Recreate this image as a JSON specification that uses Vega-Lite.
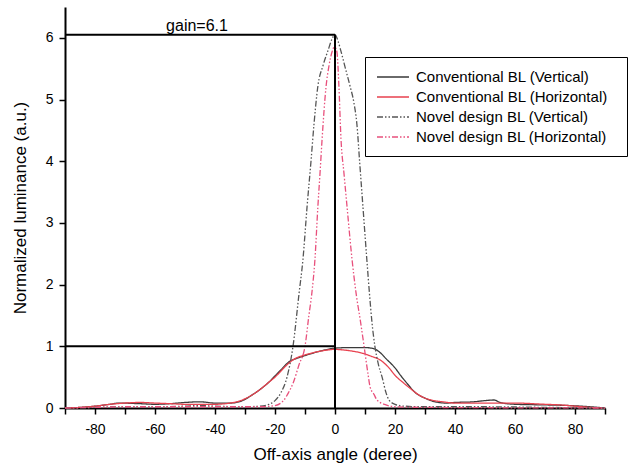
{
  "$schema": "https://vega.github.io/schema/vega-lite/v6.json",
  "width": 540,
  "height": 401,
  "autosize": {"type": "none"},
  "padding": {"left": 65, "top": 7, "right": 32, "bottom": 58},
  "background": "white",
  "config": {
    "locale": {"number": {"decimal": ".", "thousands": ",", "grouping": [3], "currency": ["$", ""], "minus": "-"}},
    "view": {"stroke": null},
    "font": "Liberation Sans",
    "axis": {
      "grid": false,
      "domainColor": "black",
      "domainWidth": 2,
      "tickColor": "black",
      "tickWidth": 1.5,
      "labelColor": "black",
      "titleColor": "black",
      "labelFont": "Liberation Sans",
      "titleFont": "Liberation Sans",
      "labelFontSize": 14,
      "titleFontSize": 17,
      "titleFontWeight": "normal",
      "labelOverlap": false
    }
  },
  "resolve": {"axis": {"x": "independent"}},
  "layer": [
    {
      "data": {
        "values": [
          {"s": "Conventional  BL (Vertical)", "x": -90, "y": 0},
          {"s": "Conventional  BL (Vertical)", "x": -85, "y": 0.01},
          {"s": "Conventional  BL (Vertical)", "x": -80, "y": 0.03},
          {"s": "Conventional  BL (Vertical)", "x": -75, "y": 0.06},
          {"s": "Conventional  BL (Vertical)", "x": -72, "y": 0.08},
          {"s": "Conventional  BL (Vertical)", "x": -65, "y": 0.07},
          {"s": "Conventional  BL (Vertical)", "x": -60, "y": 0.06},
          {"s": "Conventional  BL (Vertical)", "x": -55, "y": 0.07},
          {"s": "Conventional  BL (Vertical)", "x": -50, "y": 0.09},
          {"s": "Conventional  BL (Vertical)", "x": -45, "y": 0.1},
          {"s": "Conventional  BL (Vertical)", "x": -40, "y": 0.08},
          {"s": "Conventional  BL (Vertical)", "x": -35, "y": 0.08},
          {"s": "Conventional  BL (Vertical)", "x": -32, "y": 0.1},
          {"s": "Conventional  BL (Vertical)", "x": -30, "y": 0.14},
          {"s": "Conventional  BL (Vertical)", "x": -28, "y": 0.2},
          {"s": "Conventional  BL (Vertical)", "x": -25, "y": 0.3},
          {"s": "Conventional  BL (Vertical)", "x": -22, "y": 0.42},
          {"s": "Conventional  BL (Vertical)", "x": -20, "y": 0.52},
          {"s": "Conventional  BL (Vertical)", "x": -18, "y": 0.62},
          {"s": "Conventional  BL (Vertical)", "x": -16, "y": 0.72},
          {"s": "Conventional  BL (Vertical)", "x": -15, "y": 0.76},
          {"s": "Conventional  BL (Vertical)", "x": -13, "y": 0.8},
          {"s": "Conventional  BL (Vertical)", "x": -10, "y": 0.85},
          {"s": "Conventional  BL (Vertical)", "x": -5, "y": 0.92},
          {"s": "Conventional  BL (Vertical)", "x": 0, "y": 0.97},
          {"s": "Conventional  BL (Vertical)", "x": 5, "y": 0.98},
          {"s": "Conventional  BL (Vertical)", "x": 10, "y": 0.98},
          {"s": "Conventional  BL (Vertical)", "x": 13, "y": 0.96},
          {"s": "Conventional  BL (Vertical)", "x": 15, "y": 0.9},
          {"s": "Conventional  BL (Vertical)", "x": 17, "y": 0.8},
          {"s": "Conventional  BL (Vertical)", "x": 20, "y": 0.65},
          {"s": "Conventional  BL (Vertical)", "x": 22, "y": 0.52},
          {"s": "Conventional  BL (Vertical)", "x": 24, "y": 0.4},
          {"s": "Conventional  BL (Vertical)", "x": 27, "y": 0.24},
          {"s": "Conventional  BL (Vertical)", "x": 30, "y": 0.16},
          {"s": "Conventional  BL (Vertical)", "x": 32, "y": 0.12},
          {"s": "Conventional  BL (Vertical)", "x": 37, "y": 0.08},
          {"s": "Conventional  BL (Vertical)", "x": 40, "y": 0.09},
          {"s": "Conventional  BL (Vertical)", "x": 46, "y": 0.1},
          {"s": "Conventional  BL (Vertical)", "x": 50, "y": 0.12},
          {"s": "Conventional  BL (Vertical)", "x": 53, "y": 0.13},
          {"s": "Conventional  BL (Vertical)", "x": 55, "y": 0.09},
          {"s": "Conventional  BL (Vertical)", "x": 60, "y": 0.06},
          {"s": "Conventional  BL (Vertical)", "x": 70, "y": 0.05},
          {"s": "Conventional  BL (Vertical)", "x": 78, "y": 0.04},
          {"s": "Conventional  BL (Vertical)", "x": 85, "y": 0.02},
          {"s": "Conventional  BL (Vertical)", "x": 90, "y": 0},

          {"s": "Conventional  BL (Horizontal)", "x": -90, "y": 0},
          {"s": "Conventional  BL (Horizontal)", "x": -85, "y": 0.01},
          {"s": "Conventional  BL (Horizontal)", "x": -80, "y": 0.03},
          {"s": "Conventional  BL (Horizontal)", "x": -75, "y": 0.06},
          {"s": "Conventional  BL (Horizontal)", "x": -70, "y": 0.08},
          {"s": "Conventional  BL (Horizontal)", "x": -65, "y": 0.09},
          {"s": "Conventional  BL (Horizontal)", "x": -60, "y": 0.08},
          {"s": "Conventional  BL (Horizontal)", "x": -55, "y": 0.07},
          {"s": "Conventional  BL (Horizontal)", "x": -50, "y": 0.06},
          {"s": "Conventional  BL (Horizontal)", "x": -45, "y": 0.06},
          {"s": "Conventional  BL (Horizontal)", "x": -40, "y": 0.06},
          {"s": "Conventional  BL (Horizontal)", "x": -35, "y": 0.08},
          {"s": "Conventional  BL (Horizontal)", "x": -32, "y": 0.11},
          {"s": "Conventional  BL (Horizontal)", "x": -30, "y": 0.15},
          {"s": "Conventional  BL (Horizontal)", "x": -28, "y": 0.2},
          {"s": "Conventional  BL (Horizontal)", "x": -25, "y": 0.3},
          {"s": "Conventional  BL (Horizontal)", "x": -22, "y": 0.42},
          {"s": "Conventional  BL (Horizontal)", "x": -20, "y": 0.5},
          {"s": "Conventional  BL (Horizontal)", "x": -18, "y": 0.6},
          {"s": "Conventional  BL (Horizontal)", "x": -16, "y": 0.7},
          {"s": "Conventional  BL (Horizontal)", "x": -14, "y": 0.78},
          {"s": "Conventional  BL (Horizontal)", "x": -12, "y": 0.83},
          {"s": "Conventional  BL (Horizontal)", "x": -10, "y": 0.86},
          {"s": "Conventional  BL (Horizontal)", "x": -5, "y": 0.92},
          {"s": "Conventional  BL (Horizontal)", "x": 0, "y": 0.95},
          {"s": "Conventional  BL (Horizontal)", "x": 3, "y": 0.94},
          {"s": "Conventional  BL (Horizontal)", "x": 6, "y": 0.92},
          {"s": "Conventional  BL (Horizontal)", "x": 9, "y": 0.89},
          {"s": "Conventional  BL (Horizontal)", "x": 12, "y": 0.84},
          {"s": "Conventional  BL (Horizontal)", "x": 15, "y": 0.78},
          {"s": "Conventional  BL (Horizontal)", "x": 18, "y": 0.65},
          {"s": "Conventional  BL (Horizontal)", "x": 20, "y": 0.53},
          {"s": "Conventional  BL (Horizontal)", "x": 23, "y": 0.4},
          {"s": "Conventional  BL (Horizontal)", "x": 25, "y": 0.32},
          {"s": "Conventional  BL (Horizontal)", "x": 28, "y": 0.21},
          {"s": "Conventional  BL (Horizontal)", "x": 30, "y": 0.16},
          {"s": "Conventional  BL (Horizontal)", "x": 33, "y": 0.12},
          {"s": "Conventional  BL (Horizontal)", "x": 36, "y": 0.1},
          {"s": "Conventional  BL (Horizontal)", "x": 40, "y": 0.08},
          {"s": "Conventional  BL (Horizontal)", "x": 50, "y": 0.08},
          {"s": "Conventional  BL (Horizontal)", "x": 60, "y": 0.08},
          {"s": "Conventional  BL (Horizontal)", "x": 70, "y": 0.06},
          {"s": "Conventional  BL (Horizontal)", "x": 75, "y": 0.05},
          {"s": "Conventional  BL (Horizontal)", "x": 80, "y": 0.03},
          {"s": "Conventional  BL (Horizontal)", "x": 85, "y": 0.01},
          {"s": "Conventional  BL (Horizontal)", "x": 90, "y": 0},

          {"s": "Novel  design BL  (Vertical)", "x": -90, "y": 0},
          {"s": "Novel  design BL  (Vertical)", "x": -80, "y": 0.01},
          {"s": "Novel  design BL  (Vertical)", "x": -70, "y": 0.02},
          {"s": "Novel  design BL  (Vertical)", "x": -60, "y": 0.02},
          {"s": "Novel  design BL  (Vertical)", "x": -50, "y": 0.03},
          {"s": "Novel  design BL  (Vertical)", "x": -45, "y": 0.04},
          {"s": "Novel  design BL  (Vertical)", "x": -40, "y": 0.03},
          {"s": "Novel  design BL  (Vertical)", "x": -30, "y": 0.02},
          {"s": "Novel  design BL  (Vertical)", "x": -25, "y": 0.03},
          {"s": "Novel  design BL  (Vertical)", "x": -22, "y": 0.06},
          {"s": "Novel  design BL  (Vertical)", "x": -20, "y": 0.12},
          {"s": "Novel  design BL  (Vertical)", "x": -18, "y": 0.25},
          {"s": "Novel  design BL  (Vertical)", "x": -16, "y": 0.5},
          {"s": "Novel  design BL  (Vertical)", "x": -14, "y": 1.0},
          {"s": "Novel  design BL  (Vertical)", "x": -12, "y": 1.85},
          {"s": "Novel  design BL  (Vertical)", "x": -10.7, "y": 2.4},
          {"s": "Novel  design BL  (Vertical)", "x": -9.3, "y": 3.27},
          {"s": "Novel  design BL  (Vertical)", "x": -8, "y": 4.0},
          {"s": "Novel  design BL  (Vertical)", "x": -7, "y": 4.6},
          {"s": "Novel  design BL  (Vertical)", "x": -5.7, "y": 5.22},
          {"s": "Novel  design BL  (Vertical)", "x": -4, "y": 5.55},
          {"s": "Novel  design BL  (Vertical)", "x": -2.3, "y": 5.8},
          {"s": "Novel  design BL  (Vertical)", "x": -1, "y": 5.98},
          {"s": "Novel  design BL  (Vertical)", "x": 0, "y": 6.05},
          {"s": "Novel  design BL  (Vertical)", "x": 1, "y": 5.95},
          {"s": "Novel  design BL  (Vertical)", "x": 2, "y": 5.78},
          {"s": "Novel  design BL  (Vertical)", "x": 3.5, "y": 5.5},
          {"s": "Novel  design BL  (Vertical)", "x": 5, "y": 5.22},
          {"s": "Novel  design BL  (Vertical)", "x": 6.3, "y": 4.95},
          {"s": "Novel  design BL  (Vertical)", "x": 7.3, "y": 4.6},
          {"s": "Novel  design BL  (Vertical)", "x": 8.2, "y": 4.0},
          {"s": "Novel  design BL  (Vertical)", "x": 9.3, "y": 3.27},
          {"s": "Novel  design BL  (Vertical)", "x": 10.7, "y": 2.35},
          {"s": "Novel  design BL  (Vertical)", "x": 11.5, "y": 1.85},
          {"s": "Novel  design BL  (Vertical)", "x": 12.3, "y": 1.4},
          {"s": "Novel  design BL  (Vertical)", "x": 13.3, "y": 1.0},
          {"s": "Novel  design BL  (Vertical)", "x": 14.5, "y": 0.7},
          {"s": "Novel  design BL  (Vertical)", "x": 15.7, "y": 0.5},
          {"s": "Novel  design BL  (Vertical)", "x": 17, "y": 0.25},
          {"s": "Novel  design BL  (Vertical)", "x": 18, "y": 0.13},
          {"s": "Novel  design BL  (Vertical)", "x": 20, "y": 0.06},
          {"s": "Novel  design BL  (Vertical)", "x": 23, "y": 0.03},
          {"s": "Novel  design BL  (Vertical)", "x": 30, "y": 0.02},
          {"s": "Novel  design BL  (Vertical)", "x": 50, "y": 0.02},
          {"s": "Novel  design BL  (Vertical)", "x": 70, "y": 0.01},
          {"s": "Novel  design BL  (Vertical)", "x": 90, "y": 0},

          {"s": "Novel  design BL  (Horizontal)", "x": -90, "y": 0},
          {"s": "Novel  design BL  (Horizontal)", "x": -80, "y": 0.01},
          {"s": "Novel  design BL  (Horizontal)", "x": -70, "y": 0.02},
          {"s": "Novel  design BL  (Horizontal)", "x": -60, "y": 0.02},
          {"s": "Novel  design BL  (Horizontal)", "x": -50, "y": 0.02},
          {"s": "Novel  design BL  (Horizontal)", "x": -40, "y": 0.02},
          {"s": "Novel  design BL  (Horizontal)", "x": -30, "y": 0.02},
          {"s": "Novel  design BL  (Horizontal)", "x": -25, "y": 0.02},
          {"s": "Novel  design BL  (Horizontal)", "x": -20, "y": 0.04},
          {"s": "Novel  design BL  (Horizontal)", "x": -17, "y": 0.13},
          {"s": "Novel  design BL  (Horizontal)", "x": -15.5, "y": 0.25},
          {"s": "Novel  design BL  (Horizontal)", "x": -14, "y": 0.4},
          {"s": "Novel  design BL  (Horizontal)", "x": -12, "y": 0.7},
          {"s": "Novel  design BL  (Horizontal)", "x": -10, "y": 1.0},
          {"s": "Novel  design BL  (Horizontal)", "x": -8.7, "y": 1.5},
          {"s": "Novel  design BL  (Horizontal)", "x": -7.7, "y": 1.87},
          {"s": "Novel  design BL  (Horizontal)", "x": -6.7, "y": 2.4},
          {"s": "Novel  design BL  (Horizontal)", "x": -5.7, "y": 3.27},
          {"s": "Novel  design BL  (Horizontal)", "x": -5, "y": 3.8},
          {"s": "Novel  design BL  (Horizontal)", "x": -4.3, "y": 4.36},
          {"s": "Novel  design BL  (Horizontal)", "x": -3, "y": 5.2},
          {"s": "Novel  design BL  (Horizontal)", "x": -2, "y": 5.55},
          {"s": "Novel  design BL  (Horizontal)", "x": -1, "y": 5.77},
          {"s": "Novel  design BL  (Horizontal)", "x": -0.3, "y": 5.85},
          {"s": "Novel  design BL  (Horizontal)", "x": 0.3, "y": 5.83},
          {"s": "Novel  design BL  (Horizontal)", "x": 0.7, "y": 5.75},
          {"s": "Novel  design BL  (Horizontal)", "x": 1.3, "y": 5.22},
          {"s": "Novel  design BL  (Horizontal)", "x": 2, "y": 4.36},
          {"s": "Novel  design BL  (Horizontal)", "x": 3, "y": 3.8},
          {"s": "Novel  design BL  (Horizontal)", "x": 4, "y": 3.27},
          {"s": "Novel  design BL  (Horizontal)", "x": 5.7, "y": 2.4},
          {"s": "Novel  design BL  (Horizontal)", "x": 7, "y": 1.87},
          {"s": "Novel  design BL  (Horizontal)", "x": 8.5, "y": 1.4},
          {"s": "Novel  design BL  (Horizontal)", "x": 9.7, "y": 1.0},
          {"s": "Novel  design BL  (Horizontal)", "x": 11, "y": 0.55},
          {"s": "Novel  design BL  (Horizontal)", "x": 11.7, "y": 0.34},
          {"s": "Novel  design BL  (Horizontal)", "x": 13, "y": 0.22},
          {"s": "Novel  design BL  (Horizontal)", "x": 14, "y": 0.13},
          {"s": "Novel  design BL  (Horizontal)", "x": 17, "y": 0.05},
          {"s": "Novel  design BL  (Horizontal)", "x": 20, "y": 0.02},
          {"s": "Novel  design BL  (Horizontal)", "x": 30, "y": 0.01},
          {"s": "Novel  design BL  (Horizontal)", "x": 90, "y": 0}
        ]
      },
      "mark": {"type": "line", "strokeWidth": 1.3, "interpolate": "monotone"},
      "encoding": {
        "x": {
          "field": "x", "type": "quantitative",
          "scale": {"domain": [-90, 90], "nice": false, "zero": false},
          "axis": {
            "orient": "bottom",
            "title": "Off-axis angle (deree)",
            "values": [-80, -60, -40, -20, 0, 20, 40, 60, 80],
            "format": "d",
            "labelOverlap": false,
            "labelFlush": false,
            "tickSize": 6,
            "labelPadding": 8,
            "titlePadding": 10
          }
        },
        "y": {
          "field": "y", "type": "quantitative",
          "scale": {"domain": [0, 6.5], "nice": false},
          "axis": {
            "title": "Normalized luminance (a.u.)",
            "values": [0, 0.5, 1, 1.5, 2, 2.5, 3, 3.5, 4, 4.5, 5, 5.5, 6],
            "labelExpr": "datum.value % 1 == 0 ? toString(datum.value) : ''",
            "labelOverlap": false,
            "tickSize": {"condition": {"test": "datum.value % 1 == 0", "value": 6}, "value": 3},
            "labelPadding": 6,
            "titlePadding": 16
          }
        },
        "color": {
          "field": "s", "type": "nominal",
          "scale": {
            "domain": ["Conventional  BL (Vertical)", "Conventional  BL (Horizontal)", "Novel  design BL  (Vertical)", "Novel  design BL  (Horizontal)"],
            "range": ["#3a3a3a", "#e8424f", "#555555", "#e8507c"]
          },
          "legend": {
            "title": null,
            "orient": "none",
            "legendX": 300,
            "legendY": 50,
            "strokeColor": "black",
            "fillColor": "white",
            "padding": 11,
            "labelFont": "Liberation Sans",
            "labelFontSize": 15,
            "labelColor": "black",
            "labelLimit": 400,
            "labelOffset": 22,
            "symbolType": "M-1,0H3",
            "symbolSize": 256,
            "symbolStrokeWidth": 1.3,
            "rowPadding": 3
          }
        },
        "strokeDash": {
          "field": "s", "type": "nominal",
          "scale": {
            "domain": ["Conventional  BL (Vertical)", "Conventional  BL (Horizontal)", "Novel  design BL  (Vertical)", "Novel  design BL  (Horizontal)"],
            "range": [[1, 0], [1, 0], [6, 2, 1.5, 2, 1.5, 2], [6, 2, 1.5, 2, 1.5, 2]]
          },
          "legend": {
            "title": null,
            "orient": "none",
            "legendX": 300,
            "legendY": 50
          }
        }
      }
    },
    {
      "data": {
        "values": [
          {"x": -90, "x2": 0, "y": 6.05, "y2": 6.05},
          {"x": -90, "x2": 0, "y": 1, "y2": 1},
          {"x": 0, "x2": 0, "y": 0, "y2": 6.05}
        ]
      },
      "mark": {"type": "rule", "color": "black", "strokeWidth": 2},
      "encoding": {
        "x": {
          "field": "x", "type": "quantitative",
          "axis": {
            "orient": "bottom",
            "title": null,
            "values": [-90, -70, -50, -30, -10, 10, 30, 50, 70, 90],
            "labels": false,
            "domain": false,
            "tickSize": 6
          }
        },
        "x2": {"field": "x2"},
        "y": {"field": "y", "type": "quantitative"},
        "y2": {"field": "y2"}
      }
    },
    {
      "data": {"values": [{"x": -46, "y": 6.2, "t": "gain=6.1"}]},
      "mark": {"type": "text", "fontSize": 16, "font": "Liberation Sans", "color": "black", "align": "center", "baseline": "middle"},
      "encoding": {
        "x": {"field": "x", "type": "quantitative", "axis": null},
        "y": {"field": "y", "type": "quantitative"},
        "text": {"field": "t"}
      }
    }
  ]
}
